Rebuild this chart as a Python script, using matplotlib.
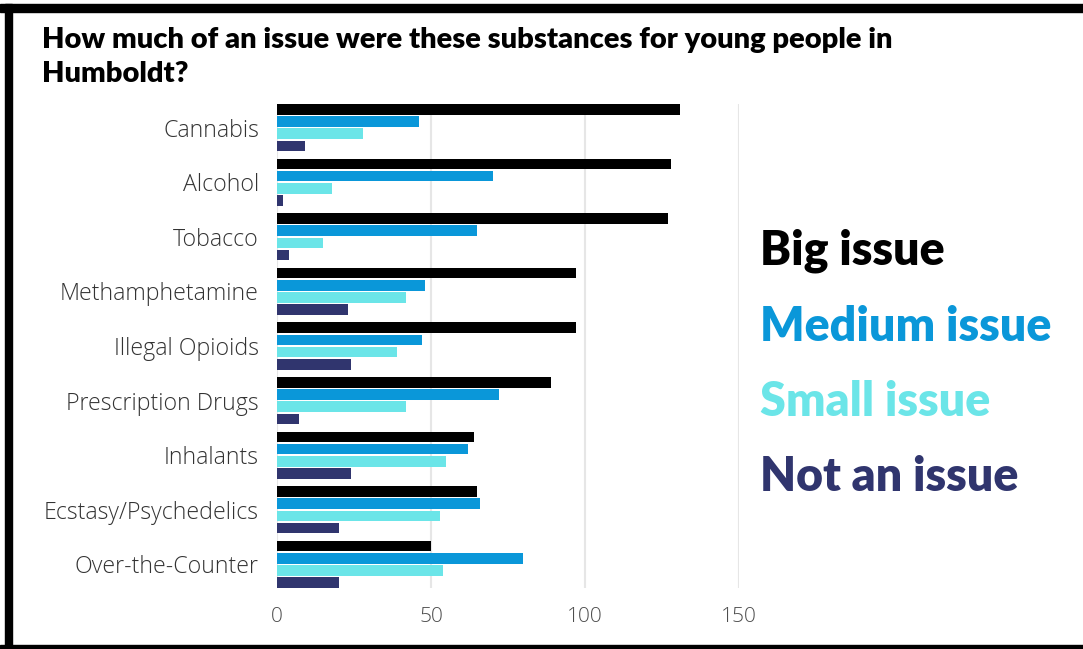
import numpy as np
import matplotlib.pyplot as plt
from matplotlib.patches import Rectangle

substances = ['Cannabis', 'Alcohol', 'Tobacco', 'Methamphetamine', 'Illegal Opioids',
              'Prescription Drugs', 'Inhalants', 'Ecstasy/Psychedelics', 'Over-the-Counter']
big = [131, 128, 127, 97, 97, 89, 64, 65, 50]
medium = [46, 70, 65, 48, 47, 72, 62, 66, 80]
small = [28, 18, 15, 42, 39, 42, 55, 53, 54]
not_issue = [9, 2, 4, 23, 24, 7, 24, 20, 20]
series_names = ['Big issue', 'Medium issue', 'Small issue', 'Not an issue']
colors = ['#000000', '#0a97d9', '#6be5e8', '#30356e']

W, H = 1083, 649
fig = plt.figure(figsize=(W / 100, H / 100), dpi=100)
ax = fig.add_axes([277 / W, 1 - 588 / H, (739 - 277) / W, (588 - 104) / H])

y = np.arange(len(substances))
pitch = 0.224
bar_h = 0.193
for k, vals in enumerate([big, medium, small, not_issue]):
    ax.barh(y + (k - 1.5) * pitch, vals, height=bar_h, color=colors[k], zorder=3)

ax.set_xlim(0, 150)
half = 1.5 * pitch + bar_h / 2
ax.set_ylim(len(substances) - 1 + half, -half)
ax.set_xticks([0, 50, 100, 150])
ax.set_yticks(y)
ax.set_yticklabels(substances, fontsize=16.7, color='#333333', family='Open Sans', fontweight='light')
for lbl in ax.get_xticklabels():
    lbl.set_fontsize(15)
    lbl.set_color('#4d4d4d')
    lbl.set_family('Open Sans')
    lbl.set_fontweight('light')
ax.tick_params(axis='y', length=0, pad=13)
ax.tick_params(axis='x', length=0, pad=14)
ax.grid(axis='x', color='#e6e6e6', linewidth=1.5, zorder=0)
for s in ax.spines.values():
    s.set_visible(False)

fig.text(42 / W, 1 - 27 / H,
         'How much of an issue were these substances for young people in\nHumboldt?',
         ha='left', va='top', fontsize=21, fontweight='heavy', family='Lato',
         color='#000000', linespacing=1.38)

legend_y = [251, 327, 402, 477]
for name, c, ly in zip(series_names, colors, legend_y):
    fig.text(760 / W, 1 - ly / H, name, ha='left', va='center', fontsize=33.5,
             fontweight='heavy', family='Lato', color=c)

# black frame
fig.add_artist(Rectangle((0, 1 - 12 / H), 1, 8 / H, transform=fig.transFigure, color='black'))
fig.add_artist(Rectangle((5 / W, 0), 7 / W, 1 - 4 / H, transform=fig.transFigure, color='black'))
fig.add_artist(Rectangle((0, 0), 1, 4 / H, transform=fig.transFigure, color='black'))

fig.savefig('out.png', dpi=100)
